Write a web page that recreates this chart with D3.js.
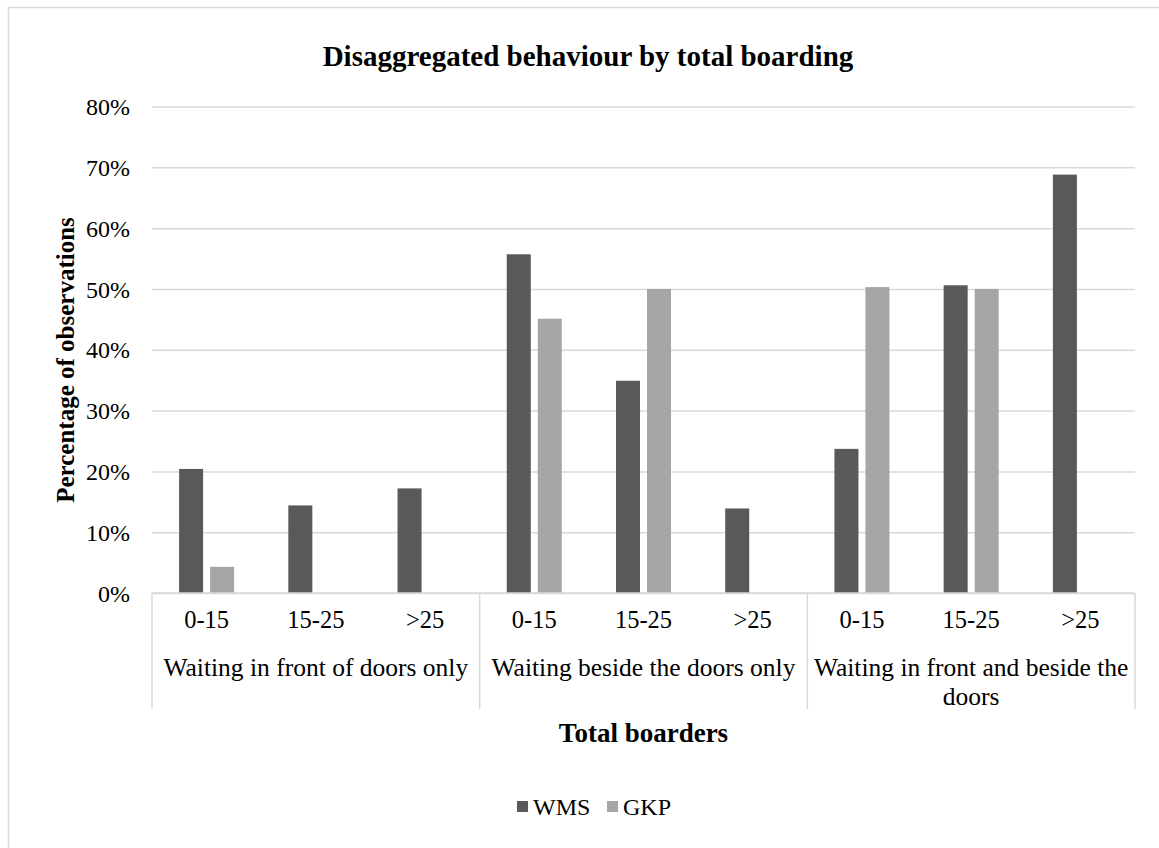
<!DOCTYPE html>
<html>
<head>
<meta charset="utf-8">
<script src="https://cdn.jsdelivr.net/npm/d3@7"></script>
<style>
  body { margin: 0; background: #fff; }
</style>
</head>
<body>
<script>
const w = 1159;
const h = 848;
const font = "'Liberation Serif', 'Times New Roman', serif";

// data
const groups = ["Waiting in front of doors only", "Waiting beside the doors only", "Waiting in front and beside the doors"];
const bins = ["0-15", "15-25", ">25"];
const series = ["WMS", "GKP"];
const wms = [0.204, 0.144, 0.172, 0.557, 0.349, 0.139, 0.237, 0.506, 0.688];
const gkp = [0.043, 0, 0, 0.451, 0.500, 0, 0.503, 0.500, 0];
const yTicks = [0, 0.1, 0.2, 0.3, 0.4, 0.5, 0.6, 0.7, 0.8];
const colors = ["#595959", "#a6a6a6"];

const plotLeft = 152, plotRight = 1135, plotTop = 106.5, plotBottom = 593;

var svg = d3.select("body")
            .append("svg")
            .attr("width", w)
            .attr("height", h)
            .style("font-family", font);

// outer chart border (runs off the right and bottom edges)
svg.append("rect")
   .attr("x", 8.5)
   .attr("y", 7.5)
   .attr("width", w + 10)
   .attr("height", h + 10)
   .attr("fill", "#fff")
   .attr("stroke", "#d9d9d9")
   .attr("stroke-width", 1.5);

const yScale = d3.scaleLinear()
                 .domain([0, 0.8])
                 .range([plotBottom, plotTop]);

const groupScale = d3.scaleBand()
                     .domain(groups)
                     .range([plotLeft, plotRight]);

const binScale = d3.scaleBand()
                   .domain(bins)
                   .range([0, groupScale.bandwidth()]);

const seriesScale = d3.scaleBand()
                      .domain(series)
                      .range([0, binScale.bandwidth()])
                      .paddingInner(0.2258)
                      .paddingOuter(0.874);

// gridlines + y labels
const yAxis = d3.axisLeft(yScale)
                .tickValues(yTicks)
                .tickFormat(d3.format(".0%"))
                .tickSize(-(plotRight - plotLeft))
                .tickPadding(22);

const yg = svg.append("g")
   .attr("transform", "translate(" + plotLeft + ",0)")
   .call(yAxis)
   .attr("font-family", null)
   .attr("font-size", null);
yg.select(".domain").remove();
yg.selectAll(".tick line").attr("stroke", "#d9d9d9").attr("stroke-width", 1.5);
yg.selectAll(".tick text")
  .attr("fill", "#000")
  .attr("dy", "0.34em")
  .style("font-family", font)
  .style("font-size", "24px");

// flatten to one row per bar
const rows = [];
groups.forEach((g, gi) => {
  bins.forEach((b, bi) => {
    const i = gi * 3 + bi;
    rows.push({ group: g, bin: b, series: "WMS", value: wms[i] });
    rows.push({ group: g, bin: b, series: "GKP", value: gkp[i] });
  });
});

svg.append("g")
   .selectAll("rect")
   .data(rows.filter(d => d.value > 0))
   .enter()
   .append("rect")
   .attr("x", d => groupScale(d.group) + binScale(d.bin) + seriesScale(d.series))
   .attr("y", d => yScale(d.value))
   .attr("width", seriesScale.bandwidth())
   .attr("height", d => plotBottom - yScale(d.value))
   .attr("fill", d => colors[series.indexOf(d.series)]);

// category axis: baseline and group separators
const axisBottomY = 709;
svg.append("line")
   .attr("x1", plotLeft).attr("x2", plotRight)
   .attr("y1", plotBottom).attr("y2", plotBottom)
   .attr("stroke", "#d9d9d9").attr("stroke-width", 1.5);

const seps = groups.map(g => groupScale(g)).concat([plotRight]);
svg.append("g")
   .selectAll("line")
   .data(seps)
   .enter()
   .append("line")
   .attr("x1", d => d).attr("x2", d => d)
   .attr("y1", plotBottom).attr("y2", axisBottomY)
   .attr("stroke", "#d9d9d9").attr("stroke-width", 1.5);

// bin labels
const binLabels = [];
groups.forEach(g => bins.forEach(b => binLabels.push({ group: g, bin: b })));
svg.append("g")
   .selectAll("text")
   .data(binLabels)
   .enter()
   .append("text")
   .attr("x", d => groupScale(d.group) + binScale(d.bin) + binScale.bandwidth() / 2)
   .attr("y", 628)
   .attr("text-anchor", "middle")
   .style("font-size", "24.5px")
   .text(d => d.bin);

// group labels, wrapped to the group width
groups.forEach(g => {
  const cx = groupScale(g) + groupScale.bandwidth() / 2;
  const t = svg.append("text")
     .attr("x", cx)
     .attr("y", 676)
     .attr("text-anchor", "middle")
     .style("font-size", "25.5px");
  const words = g.split(" ");
  let line = [];
  let tspan = t.append("tspan").attr("x", cx).attr("dy", 0);
  words.forEach(word => {
    line.push(word);
    tspan.text(line.join(" "));
    if (tspan.node().getComputedTextLength() > groupScale.bandwidth() && line.length > 1) {
      line.pop();
      tspan.text(line.join(" "));
      line = [word];
      tspan = t.append("tspan")
               .attr("x", cx)
               .attr("dy", 29)
               .text(word);
    }
  });
});

// titles
svg.append("text")
   .attr("x", 588)
   .attr("y", 66)
   .attr("text-anchor", "middle")
   .style("font-size", "29px")
   .attr("font-weight", "bold")
   .text("Disaggregated behaviour by total boarding");

svg.append("text")
   .attr("x", (plotLeft + plotRight) / 2)
   .attr("y", 742)
   .attr("text-anchor", "middle")
   .style("font-size", "27px")
   .attr("font-weight", "bold")
   .text("Total boarders");

svg.append("text")
   .attr("transform", "translate(74," + 360 + ") rotate(-90)")
   .attr("text-anchor", "middle")
   .style("font-size", "25px")
   .attr("font-weight", "bold")
   .text("Percentage of observations");

// legend
const legend = svg.append("g");
const legendX = [517, 607];
series.forEach((s, i) => {
  legend.append("rect")
        .attr("x", legendX[i])
        .attr("y", 801)
        .attr("width", 11)
        .attr("height", 11)
        .attr("fill", colors[i]);
  legend.append("text")
        .attr("x", legendX[i] + 16)
        .attr("y", 815)
        .style("font-size", "24px")
        .text(s);
});
</script>
</body>
</html>
